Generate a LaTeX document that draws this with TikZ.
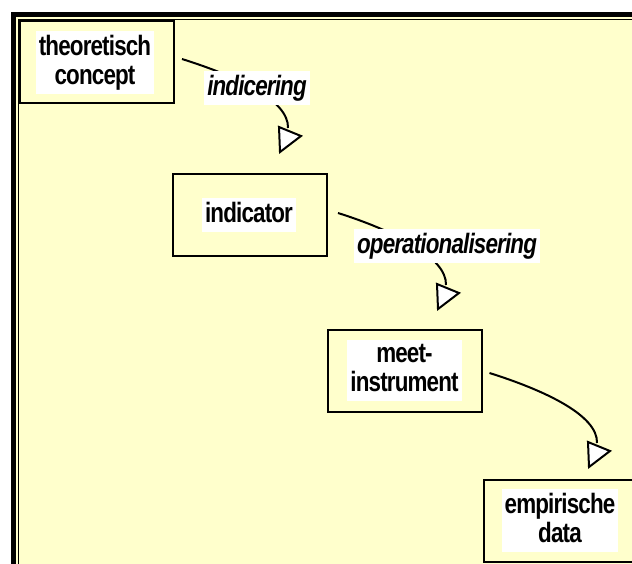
\documentclass[tikz,border=0pt]{standalone}
\usepackage{fontspec}
\newfontfamily\lblfont[FakeStretch=0.8,LetterSpace=-3]{Liberation Sans}
\definecolor{paper}{HTML}{FFFFCC}
\newcommand\lstrut{\rule[-6pt]{0pt}{27pt}}
\begin{document}
\begin{tikzpicture}[x=1pt,y=-1pt,
  box/.style={draw,line width=2pt,minimum width=154pt,minimum height=82pt,inner sep=0pt},
  txt/.style={fill=white,inner xsep=3pt,inner ysep=3.5pt,align=center,
    font=\lblfont\bfseries\fontsize{28}{29}\selectfont,
    execute at begin node=\lstrut,execute at end node=\lstrut},
  lbl/.style={txt,font=\lblfont\bfseries\itshape\fontsize{28}{29}\selectfont},
  link/.style={line width=2pt},
  head/.style={draw,line width=2pt,fill=white,line join=miter}]
\useasboundingbox (0,0) rectangle (632,563);
\clip (0,0) rectangle (632,563);
% page and framed panel
\fill[white] (0,0) rectangle (632,563);
\fill[paper] (13,14) rectangle (700,650);
\draw[line width=4.5pt] (13.25,14.25) rectangle (700,650);
\draw[line width=1.5pt] (18.5,19.5) rectangle (700,650);
% boxes
\node[box] (b1) at (97,62) {};
\node[box] (b2) at (250,215) {};
\node[box] (b3) at (404.5,371) {};
\node[box] (b4) at (560.5,520.5) {};
\node[txt] (t1) at (95,62.5) {theoretisch\\concept};
\node[txt] (t2) at (249,214.5) {indicator};
\node[txt] (t3) at (404.5,370.5) {meet-\\instrument};
\node[txt] (t4) at (560,520.5) {empirische\\data};
% connectors
\coordinate (e1) at (288,128);
\coordinate (e2) at (446,285);
\coordinate (e3) at (597,443);
\draw[link] ([xshift=7pt,yshift=3pt]b1.east) .. controls +(54,17) and +(1,-28) .. (e1);
\draw[link] ([xshift=10pt,yshift=2pt]b2.east) .. controls +(54,17) and +(1,-28) .. (e2);
\draw[link] ([xshift=7pt,yshift=-2pt]b3.east) .. controls +(54,17) and +(1,-28) .. (e3);
\foreach \e in {e1,e2,e3}
  \draw[head] ([shift={(-9,-1)}]\e) -- ([shift={(-8,24)}]\e) -- ([shift={(13,8)}]\e) -- cycle;
% connector labels
\node[lbl] (l1) at (257,88) {indicering};
\node[lbl] (l2) at (447,245.5) {operationalisering};
\end{tikzpicture}
\end{document}
